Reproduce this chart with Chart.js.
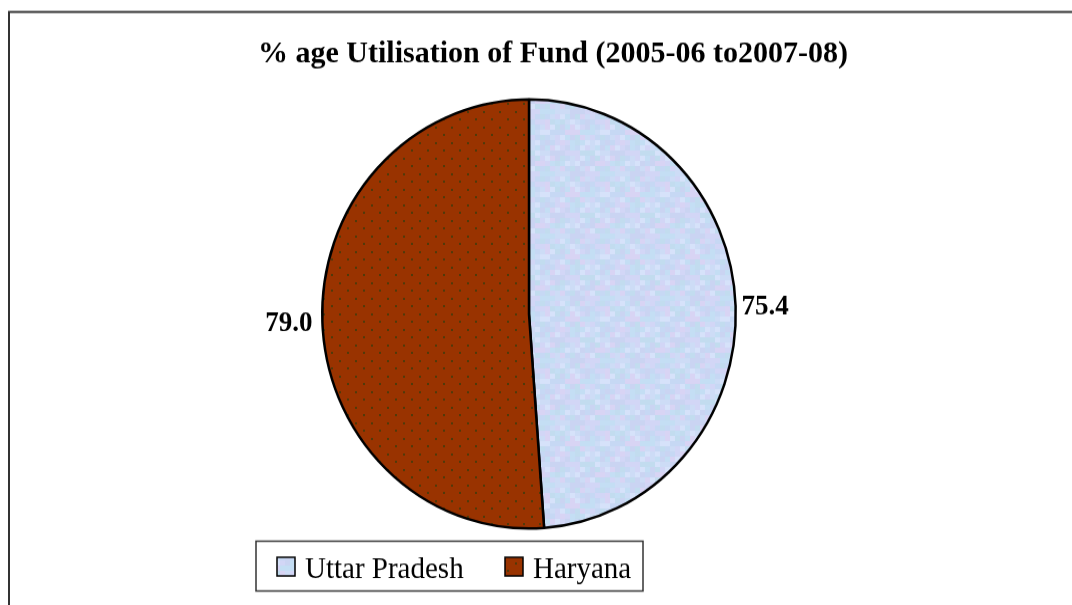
<!DOCTYPE html>
<html><head><meta charset="utf-8">
<script src="https://cdn.jsdelivr.net/npm/chart.js@4"></script>
<style>
html,body{margin:0;padding:0;background:#fff;overflow:hidden;}
#wrap{position:absolute;left:0;top:0;width:1072px;height:583px;transform-origin:0 0;transform:scaleY(1.0377);}
</style></head><body>
<div id="wrap"><canvas id="c"></canvas></div>
<script>
const chartTitle = '% age Utilisation of Fund (2005-06 to2007-08)';
const categories = ['Uttar Pradesh', 'Haryana'];
const values = [75.4, 79.0];
const valueLabels = ['75.4', '79.0'];

function makeDots(){
  const c=document.createElement('canvas'); c.width=16; c.height=15;
  const x=c.getContext('2d');
  x.fillStyle='#993300'; x.fillRect(0,0,16,15);
  x.fillStyle='#4f3a0a'; x.fillRect(3,2,2,2); x.fillRect(11,9,2,2);
  return x.createPattern(c,'repeat');
}
function makeMosaic(){
  const c=document.createElement('canvas'); c.width=60; c.height=60;
  const x=c.getContext('2d');
  const pal=['#cddcf6','#c6d8f4','#d2d6f6','#c4def4','#d6e2fa','#cad4f2','#d8d4f4','#c2dcef'];
  for(let i=0;i<12;i++)for(let j=0;j<12;j++){
    const k=(i*5+j*3+((i*j)%4)*2+((i+j*j)%3))%pal.length;
    x.fillStyle=pal[k]; x.fillRect(i*5,j*5,5,5);
  }
  return x.createPattern(c,'repeat');
}
const mosaic = makeMosaic();
const dots = makeDots();
const fills = [mosaic, dots];

const decor = {
  id:'decor',
  afterDraw(chart){
    const ctx = chart.ctx;
    ctx.save();
    // frame
    ctx.strokeStyle='#333'; ctx.lineWidth=2;
    ctx.beginPath(); ctx.moveTo(9,600); ctx.lineTo(9,11.5); ctx.lineTo(1072,11.5); ctx.stroke();
    // title
    ctx.fillStyle='#000';
    ctx.font='bold 30px "Liberation Serif", "Times New Roman", serif';
    ctx.textAlign='center'; ctx.textBaseline='alphabetic';
    ctx.fillText(chartTitle, 553, 59.5);
    // data labels
    const meta = chart.getDatasetMeta(0);
    ctx.font='bold 27px "Liberation Serif", "Times New Roman", serif';
    ctx.textBaseline='middle';
    meta.data.forEach((arc,i)=>{
      const p = arc.getProps(['x','y','startAngle','endAngle','outerRadius'], true);
      const mid=(p.startAngle+p.endAngle)/2;
      const right = Math.cos(mid)>=0;
      const r=p.outerRadius+(right?6:10);
      const px=p.x+Math.cos(mid)*r, py=p.y+Math.sin(mid)*r;
      ctx.textAlign = right ? 'left' : 'right';
      ctx.fillText(valueLabels[i], px, py+1);
    });
    // legend
    ctx.strokeStyle='#333'; ctx.lineWidth=1.5;
    ctx.strokeRect(256,521.5,387,48);
    const sx=[277,505], tx=[305,533];
    ctx.font='29px "Liberation Serif", "Times New Roman", serif';
    ctx.textAlign='left'; ctx.textBaseline='alphabetic';
    categories.forEach((c,i)=>{
      ctx.fillStyle=fills[i]; ctx.fillRect(sx[i],537,18,18);
      ctx.strokeStyle='#000'; ctx.lineWidth=1.5; ctx.strokeRect(sx[i],537,18,18);
      ctx.fillStyle='#000'; ctx.fillText(c, tx[i], 556.5);
    });
    ctx.restore();
  }
};

new Chart(document.getElementById('c'),{
  type:'pie',
  data:{labels:categories,datasets:[{data:values,backgroundColor:fills,borderColor:'#000',borderWidth:2.5}]},
  options:{
    responsive:true, maintainAspectRatio:false, animation:false, rotation:0,
    layout:{padding:{left:321,right:335,top:94.6,bottom:72.4}},
    plugins:{legend:{display:false},title:{display:false},tooltip:{enabled:false}},
    events:[]
  },
  plugins:[decor]
});
</script>
</body></html>
